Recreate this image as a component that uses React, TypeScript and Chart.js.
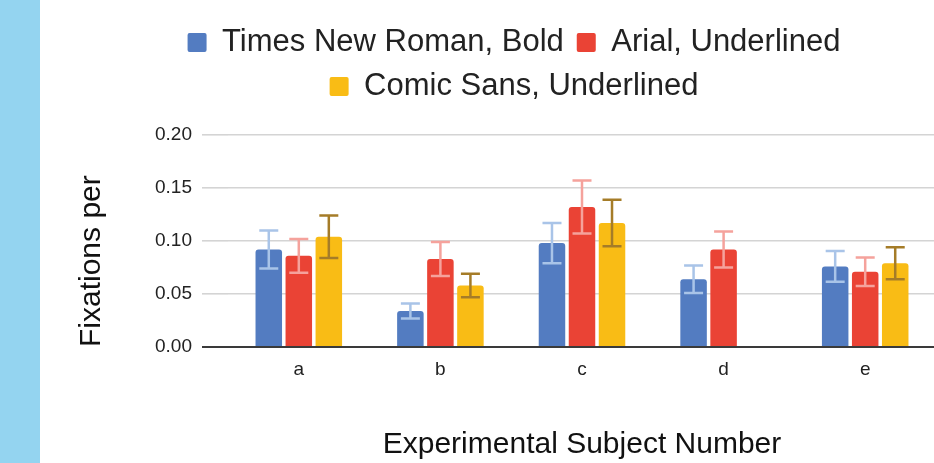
import React, { useEffect, useRef } from "react";
import { Chart, registerables } from "chart.js";

Chart.register(...registerables);

const categories = ["a", "b", "c", "d", "e"];
const seriesNames = ["Times New Roman, Bold", "Arial, Underlined", "Comic Sans, Underlined"];
const tnrValues = [0.092, 0.034, 0.098, 0.064, 0.076];
const arialValues = [0.086, 0.083, 0.132, 0.092, 0.071];
const comicValues = [0.104, 0.058, 0.117, null, 0.079];
const tnrErrors = [0.018, 0.007, 0.019, 0.013, 0.0145];
const arialErrors = [0.016, 0.016, 0.025, 0.017, 0.0135];
const comicErrors = [0.02, 0.011, 0.022, null, 0.015];
const yTicks = [0, 0.05, 0.1, 0.15, 0.2];

const barColors = ["#537CC1", "#EA4335", "#F9BC15"];
const errorColors = ["#A9C4E8", "#F5A29C", "#A57C28"];
const FONT = '"Liberation Sans", Arial, sans-serif';

const errorSets = [tnrErrors, arialErrors, comicErrors];

const errorBarPlugin = {
  id: "errorBars",
  afterDatasetsDraw(chart: any) {
    const ctx = chart.ctx;
    const y = chart.scales.y;
    chart.data.datasets.forEach((ds: any, i: number) => {
      const meta = chart.getDatasetMeta(i);
      const errs = errorSets[i];
      ds.data.forEach((v: number | null, j: number) => {
        const e = errs[j];
        if (v == null || e == null) return;
        const el = meta.data[j];
        if (!el) return;
        const x = el.x;
        const yt = y.getPixelForValue(v + e);
        const yb = y.getPixelForValue(v - e);
        ctx.save();
        ctx.strokeStyle = errorColors[i];
        ctx.lineWidth = 2.5;
        ctx.beginPath();
        ctx.moveTo(x, yt);
        ctx.lineTo(x, yb);
        ctx.moveTo(x - 9.5, yt);
        ctx.lineTo(x + 9.5, yt);
        ctx.moveTo(x - 9.5, yb);
        ctx.lineTo(x + 9.5, yb);
        ctx.stroke();
        ctx.restore();
      });
    });
  },
};

const legendGapPlugin = {
  id: "legendGap",
  beforeLayout(chart: any) {
    const lg = chart.legend;
    if (lg && !lg._gapPatched) {
      const fit = lg.fit;
      lg.fit = function () {
        fit.call(this);
        this.height += 23;
      };
      lg._gapPatched = true;
    }
  },
};

export default function App() {
  const ref = useRef<HTMLCanvasElement | null>(null);

  useEffect(() => {
    if (!ref.current) return;
    const chart = new Chart(ref.current, {
      type: "bar",
      data: {
        labels: categories,
        datasets: [tnrValues, arialValues, comicValues].map((d, i) => ({
          label: seriesNames[i],
          data: d,
          backgroundColor: barColors[i],
          borderWidth: 0,
          borderRadius: { topLeft: 3, topRight: 3, bottomLeft: 0, bottomRight: 0 },
          borderSkipped: false,
          categoryPercentage: 0.636,
          barPercentage: 0.883,
        })),
      },
      options: {
        responsive: false,
        animation: false,
        layout: { padding: { top: 14, left: 52, right: 52, bottom: 0 } },
        plugins: {
          legend: {
            position: "top",
            align: "center",
            labels: {
              boxWidth: 19,
              boxHeight: 19,
              padding: 13,
              useBorderRadius: true,
              borderRadius: 2,
              color: "#222",
              font: { family: FONT, size: 31 },
            },
          },
          tooltip: { enabled: false },
        },
        scales: {
          x: {
            grid: { display: false },
            border: { display: false },
            ticks: { color: "#222", padding: 3, font: { family: FONT, size: 19 } },
            title: {
              display: true,
              text: "Experimental Subject Number",
              color: "#111",
              font: { family: FONT, size: 30 },
              padding: { top: 4, bottom: 0 },
            },
            afterFit(scale: any) {
              scale.height = 116;
            },
          },
          y: {
            min: 0,
            max: 0.2,
            afterBuildTicks(scale: any) {
              scale.ticks = yTicks.map((v) => ({ value: v }));
            },
            grid: {
              color: (c: any) => (c.tick && c.tick.value === 0 ? "#3a3a3a" : "#d4d4d4"),
              lineWidth: (c: any) => (c.tick && c.tick.value === 0 ? 2 : 1.6),
              drawTicks: true,
              tickLength: 26,
            },
            border: { display: false },
            ticks: {
              color: "#222",
              padding: 10,
              font: { family: FONT, size: 19 },
              callback: (v: any) => Number(v).toFixed(2),
            },
            title: {
              display: true,
              text: "Fixations per",
              align: "start",
              color: "#111",
              font: { family: FONT, size: 30 },
              padding: { top: -18, bottom: 0 },
            },
            afterFit(scale: any) {
              scale.width = 136;
            },
          },
        },
      },
      plugins: [errorBarPlugin, legendGapPlugin],
    } as any);
    return () => chart.destroy();
  }, []);

  return (
    <div
      style={{
        position: "fixed",
        left: 0,
        top: 0,
        width: 934,
        height: 463,
        overflow: "hidden",
        background: "#fff",
      }}
    >
      <div style={{ position: "absolute", left: 0, top: 0, width: 40, height: 463, background: "#94D4F0" }} />
      <canvas
        ref={ref}
        width={948}
        height={463}
        style={{ position: "absolute", left: 40, top: 0, width: 948, height: 463 }}
      />
    </div>
  );
}
